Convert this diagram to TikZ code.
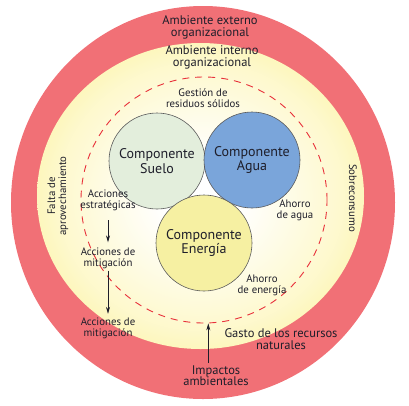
\documentclass[tikz,border=0pt]{standalone}
\usepackage{fontspec}
\setmainfont{PT Sans}
\usetikzlibrary{arrows.meta}

\definecolor{outerred}{HTML}{F17076}
\definecolor{yellowband}{HTML}{FCF29A}
\definecolor{suelofill}{HTML}{E3EEDC}
\definecolor{aguafill}{HTML}{7AA5DA}
\definecolor{energiafill}{HTML}{F6F0A2}
\definecolor{dashred}{HTML}{E8303A}
\definecolor{rimgray}{HTML}{5A5A5A}
\definecolor{inkdark}{HTML}{1E1E2A}

\pgfdeclareradialshading{ringglow}{\pgfpoint{0bp}{0bp}}{%
  color(0bp)=(white); color(6bp)=(white); color(22bp)=(yellowband!50!white); color(30bp)=(yellowband!90!white); color(36bp)=(yellowband); color(50bp)=(yellowband)}

\tikzset{%
  % Specifications for style of nodes:
         comp/.style = {circle, draw = rimgray, line width=0.6pt, minimum size=96pt, inner sep=0pt, align=center, font=\fontsize{14}{14.5}\selectfont},
          lbl/.style = {inner sep=0pt, align=center, font=\fontsize{10.8}{11}\selectfont},
         zone/.style = {inner sep=0pt, align=center, font=\fontsize{12.5}{11.5}\selectfont},
       flecha/.style = {-{Stealth[length=7pt,width=4pt]}, line width=0.7pt, inkdark},
}

\begin{document}
\begin{tikzpicture}[x=1pt, y=-1pt, every node/.style={text=inkdark}]
    \useasboundingbox (0,0) rectangle (409,405);

    % Draw rings
    \fill[outerred] (203,202.5) ellipse [x radius=192, y radius=196.5];
    \shade[shading=ringglow] (200.5,196) ellipse [x radius=163.5, y radius=153];
    \node (limite) [circle, draw=dashred, line width=0.9pt, dash pattern=on 7pt off 6pt, minimum size=246pt, inner sep=0pt] at (204,200) {};

    % Draw nodes
    \node (suelo)    [comp, fill=suelofill]   at (157,161) {Componente\\Suelo};
    \node (agua)     [comp, fill=aguafill]    at (252,160) {Componente\\Agua};
    \node (energia)  [comp, fill=energiafill] at (204,243) {Componente\\Energía};

    \node (externo)  [zone] at (210,27.5)  {Ambiente externo\\organizacional};
    \node (interno)  [zone] at (212,57.5)  {Ambiente interno\\organizacional};
    \node (residuos) [lbl]  at (203,98.5)  {Gestión de\\residuos sólidos};
    \node (estrat)   [lbl]  at (108,200.5) {Acciones\\estratégicas};
    \node (mitig1)   [lbl]  at (108,258)   {Acciones de\\mitigación};
    \node (mitig2)   [lbl]  at (108,328.5) {Acciones de\\mitigación};
    \node (ahagua)   [lbl]  at (295,210.5) {Ahorro\\de agua};
    \node (ahener)   [lbl]  at (262,285.5) {Ahorro\\de energía};
    \node (gasto)    [zone] at (281,339)   {Gasto de los recursos\\naturales};
    \node (impactos) [zone] at (216,375.5) {Impactos\\ambientales};
    \node (falta)    [lbl, rotate=90]  at (58,196)  {Falta de\\aprovechamiento};
    \node (sobre)    [lbl, rotate=-90] at (353,198) {Sobreconsumo};

    % Draw arrows
    \draw[flecha, shorten <=9pt, shorten >=5pt] (estrat.south) -- (mitig1.north);
    \draw[flecha, shorten <=2pt, shorten >=4pt] (mitig1.south) -- (mitig2.north);
    \draw[flecha, shorten <=2pt]                (impactos.north -| limite.272) -- (limite.272);

\end{tikzpicture}
\end{document}
